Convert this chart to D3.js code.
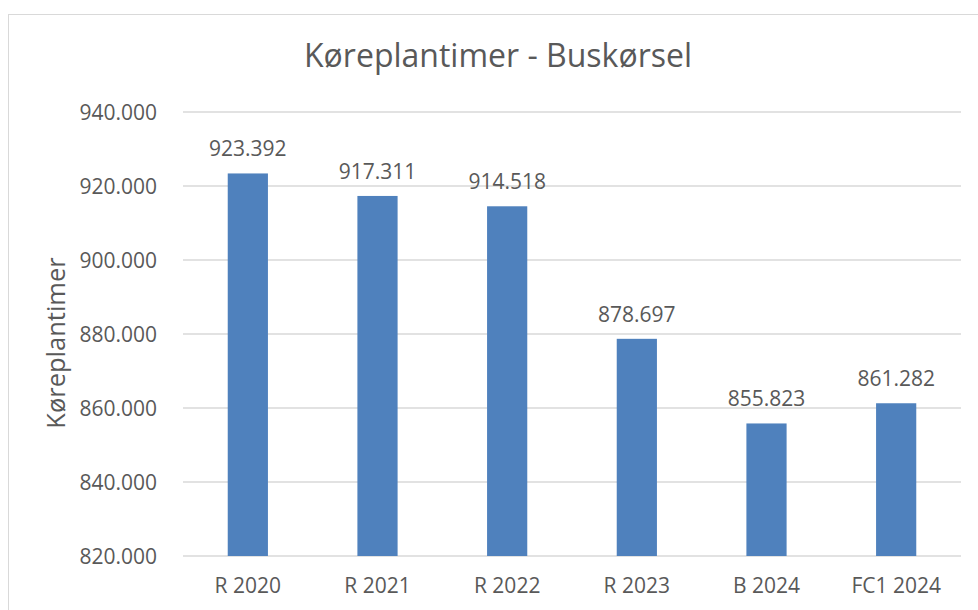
<!DOCTYPE html>
<html>
<head>
<meta charset="utf-8">
<script src="https://cdn.jsdelivr.net/npm/d3@7"></script>
<style>
  body { margin: 0; background: #fff; }
  text { font-family: "Open Sans", sans-serif; fill: #595959; }
</style>
</head>
<body>
<svg class="chart" width="978" height="610"></svg>
<script>
let categories = ['R 2020', 'R 2021', 'R 2022', 'R 2023', 'B 2024', 'FC1 2024']
let values = [923392, 917311, 914518, 878697, 855823, 861282]
let yTicks = [820000, 840000, 860000, 880000, 900000, 920000, 940000]

let data = categories.map((c, i) => ({ title: c, value: values[i] }))

let margin = { top: 112, right: 17, bottom: 54, left: 183 }
let width = 978 - margin.left - margin.right
let height = 610 - margin.top - margin.bottom

let fmt = v => d3.format(',')(v).replace(/,/g, '.')

let svg = d3.select('.chart')

// chart border
svg.append('rect')
    .attr('x', 8.5).attr('y', 14.5)
    .attr('width', 1000).attr('height', 700)
    .attr('fill', 'none')
    .attr('stroke', '#d9d9d9')

let chart = svg.append('g')
    .attr('transform', 'translate(' + margin.left + ',' + margin.top + ')')

let x = d3.scaleBand().domain(categories).range([0, width]).paddingInner(0.69).paddingOuter(0.345)
let y = d3.scaleLinear().domain([820000, 940000]).range([height, 0])

// gridlines
chart.append('g')
    .selectAll('line')
    .data(yTicks)
    .enter()
    .append('line')
    .attr('x1', 0).attr('x2', width)
    .attr('y1', d => y(d)).attr('y2', d => y(d))
    .attr('stroke', '#d9d9d9')
    .attr('stroke-width', 1.5)

// y axis
let yAxis = chart.append('g')
    .attr('transform', 'translate(-23,0)')
    .call(d3.axisLeft(y).tickValues(yTicks).tickFormat(fmt).tickSize(0))
yAxis.select('.domain').remove()
yAxis.selectAll('text').attr('font-size', 21).attr('dy', '0.36em')

// x axis
let xAxis = chart.append('g')
    .attr('transform', 'translate(0,' + height + ')')
    .call(d3.axisBottom(x).tickSize(0))
xAxis.select('.domain').remove()
xAxis.selectAll('text').attr('font-size', 21).attr('dy', '1.6em')

// bars
let bars = chart.selectAll('.bar')
    .data(data)
    .enter()

bars.append('rect')
    .attr('class', 'bar')
    .attr('x', d => x(d.title))
    .attr('y', d => y(d.value))
    .attr('width', x.bandwidth())
    .attr('height', d => height - y(d.value))
    .attr('fill', '#4f81bd')

bars.append('text')
    .attr('x', d => x(d.title) + x.bandwidth() / 2)
    .attr('y', d => y(d.value) - 17)
    .attr('text-anchor', 'middle')
    .attr('font-size', 21)
    .text(d => fmt(d.value))

// title
svg.append('text')
    .attr('x', 498)
    .attr('y', 67)
    .attr('text-anchor', 'middle')
    .attr('font-size', 32)
    .text('Køreplantimer - Buskørsel')

// y label
svg.append('text')
    .attr('transform', 'translate(65,' + 343 + ') rotate(-90)')
    .attr('text-anchor', 'middle')
    .attr('font-size', 25.5)
    .text('Køreplantimer')
</script>
</body>
</html>
